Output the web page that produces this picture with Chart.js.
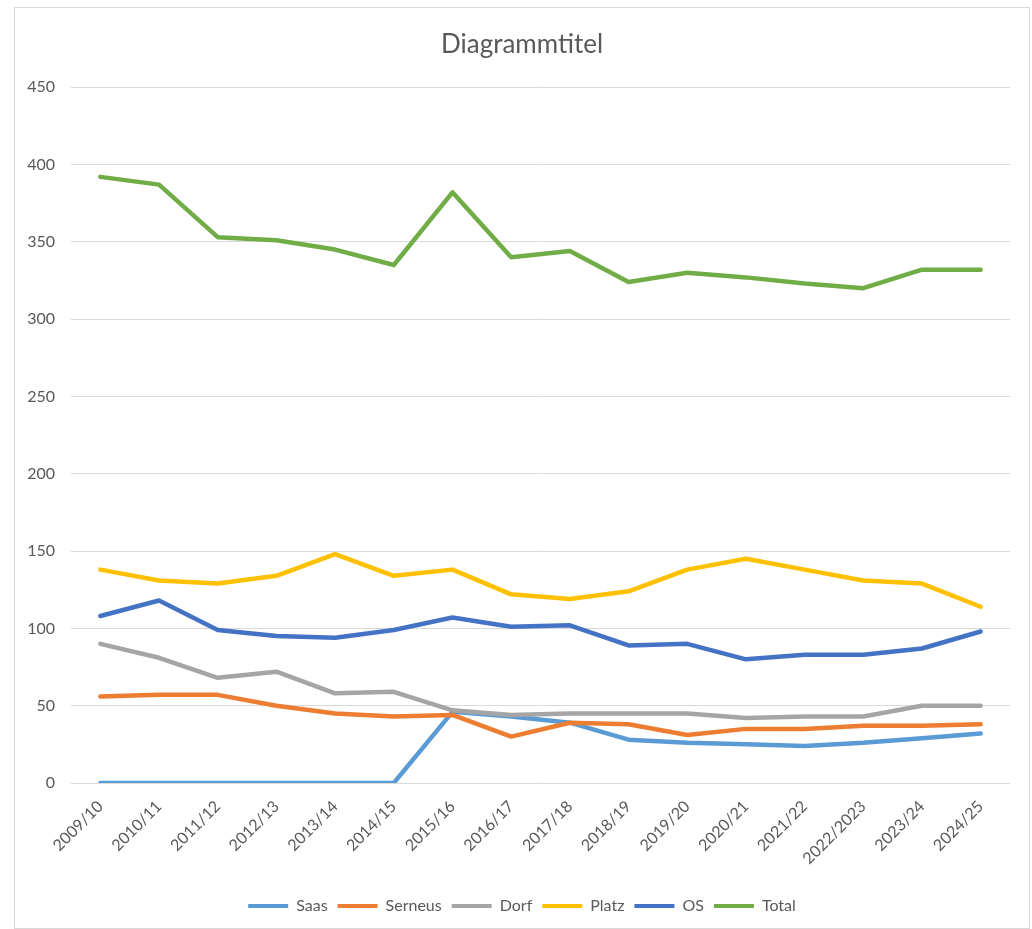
<!DOCTYPE html>
<html>
<head>
<meta charset="utf-8">
<script src="https://cdn.jsdelivr.net/npm/chart.js@4/dist/chart.umd.min.js"></script>
<style>
    body { margin: 0; background: #fff; }
    .frame {
        position: absolute; left: 14px; top: 7px;
        width: 1014px; height: 920px;
        border: 1px solid #d9d9d9;
    }
</style>
</head>
<body>
<div class="frame"><canvas id="lineChart"></canvas></div>
<script>
// Daten
const years = ['2009/10', '2010/11', '2011/12', '2012/13', '2013/14', '2014/15', '2015/16', '2016/17',
    '2017/18', '2018/19', '2019/20', '2020/21', '2021/22', '2022/2023', '2023/24', '2024/25'];
const saas    = [0, 0, 0, 0, 0, 0, 46, 43, 39, 28, 26, 25, 24, 26, 29, 32];
const serneus = [56, 57, 57, 50, 45, 43, 44, 30, 39, 38, 31, 35, 35, 37, 37, 38];
const dorf    = [90, 81, 68, 72, 58, 59, 47, 44, 45, 45, 45, 42, 43, 43, 50, 50];
const platz   = [138, 131, 129, 134, 148, 134, 138, 122, 119, 124, 138, 145, 138, 131, 129, 114];
const os      = [108, 118, 99, 95, 94, 99, 107, 101, 102, 89, 90, 80, 83, 83, 87, 98];
const total   = [392, 387, 353, 351, 345, 335, 382, 340, 344, 324, 330, 327, 323, 320, 332, 332];
const yTicks  = [0, 50, 100, 150, 200, 250, 300, 350, 400, 450];

document.addEventListener('DOMContentLoaded', function() {
    const textColor = '#595959';
    const fontFamily = 'Lato, "Open Sans", sans-serif';

    const series = [
        { label: 'Saas', data: saas, color: '#5B9BD5' },
        { label: 'Serneus', data: serneus, color: '#ED7D31' },
        { label: 'Dorf', data: dorf, color: '#A5A5A5' },
        { label: 'Platz', data: platz, color: '#FFC000' },
        { label: 'OS', data: os, color: '#4472C4' },
        { label: 'Total', data: total, color: '#70AD47' }
    ];

    const ctx = document.getElementById('lineChart').getContext('2d');

    new Chart(ctx, {
        type: 'line',
        data: {
            labels: years,
            datasets: series.map((s, i) => ({
                label: s.label,
                data: s.data,
                borderColor: s.color,
                backgroundColor: s.color,
                borderWidth: 4.5,
                borderCapStyle: 'round',
                borderJoinStyle: 'round',
                pointRadius: 0,
                pointHoverRadius: 0,
                tension: 0,
                fill: false,
                yAxisID: 'y',
                // wie in Excel: spätere Reihe liegt oben
                order: series.length - i
            }))
        },
        options: {
            responsive: true,
            maintainAspectRatio: false,
            animation: false,
            layout: { padding: { left: 0, right: 0, top: 0, bottom: 4 } },
            plugins: {
                title: {
                    display: true,
                    text: 'Diagrammtitel',
                    color: textColor,
                    font: { family: fontFamily, size: 26, weight: 'normal', lineHeight: 1.2 },
                    padding: { top: 21, bottom: 27 }
                },
                legend: {
                    position: 'bottom',
                    labels: {
                        color: textColor,
                        font: { family: fontFamily, size: 16 },
                        boxWidth: 40,
                        boxHeight: 4,
                        padding: 10,
                        sort: (a, b) => a.datasetIndex - b.datasetIndex,
                        generateLabels: function(chart) {
                            return Chart.defaults.plugins.legend.labels.generateLabels(chart)
                                .map(item => ({ ...item, lineWidth: 0 }));
                        }
                    }
                },
                tooltip: { enabled: false }
            },
            scales: {
                x: {
                    offset: true,
                    grid: { display: false },
                    border: { display: false },
                    ticks: {
                        color: textColor,
                        font: { family: fontFamily, size: 16 },
                        autoSkip: false,
                        minRotation: 45,
                        maxRotation: 45,
                        padding: 6
                    },
                    afterFit: function(scale) { scale.height = 105; }
                },
                y: {
                    min: 0,
                    max: 450,
                    grid: { color: '#d9d9d9', lineWidth: 1, drawTicks: false },
                    border: { display: false },
                    afterBuildTicks: function(scale) {
                        scale.ticks = yTicks.map(v => ({ value: v }));
                    },
                    ticks: {
                        color: textColor,
                        font: { family: fontFamily, size: 16 },
                        padding: 16
                    },
                    afterFit: function(scale) { scale.width = 56; }
                },
                yRight: {
                    position: 'right',
                    grid: { display: false },
                    border: { display: false },
                    ticks: { display: false },
                    afterFit: function(scale) { scale.width = 19; }
                }
            }
        }
    });
});
</script>
</body>
</html>
